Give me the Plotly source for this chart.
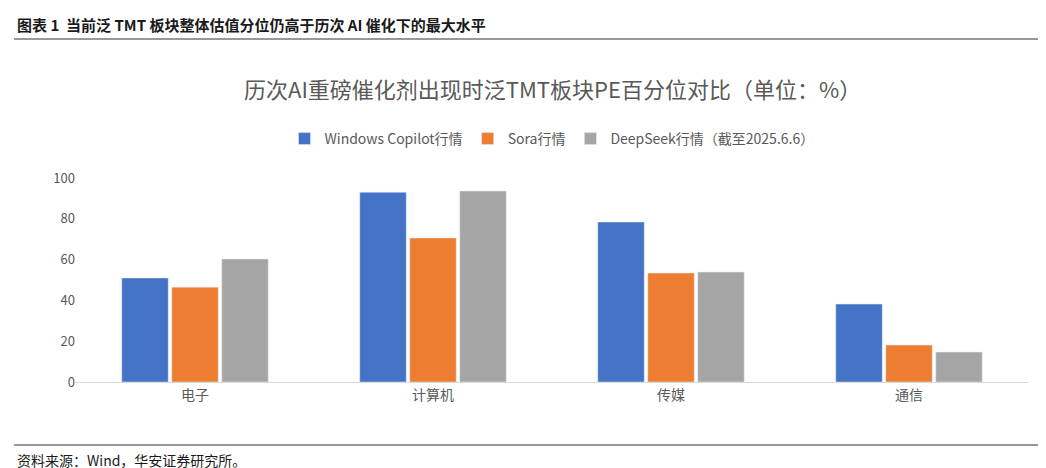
import plotly.graph_objects as go

categories = ["电子", "计算机", "传媒", "通信"]
copilot = [51, 93, 78.4, 38.2]
sora = [46.5, 70.6, 53.4, 18.1]
deepseek = [60.3, 93.6, 53.9, 14.7]

W, H = 1046, 468
TOP, BOT = 170, 374


def py(y):
    # pixel row -> paper y for the plot area
    return (BOT - y) / (BOT - TOP)


def px_(x):
    return (x - 68) / (1020 - 68)


font = "Noto Sans CJK SC"
fig = go.Figure()
for name, vals, col in [("Windows Copilot行情", copilot, "#4472C4"),
                        ("Sora行情", sora, "#ED7D31"),
                        ("DeepSeek行情（截至2025.6.6）", deepseek, "#A5A5A5")]:
    fig.add_trace(go.Bar(x=categories, y=vals, name=name, marker_color=col))

fig.update_layout(
    width=W, height=H, plot_bgcolor="white", paper_bgcolor="white",
    margin=dict(l=68, r=26, t=TOP, b=H - BOT),
    bargap=0.37, bargroupgap=0.07,
    font=dict(family=font, color="#595959", size=13),
    legend=dict(orientation="h", x=0.5, xanchor="center", y=py(131), yanchor="middle",
                font=dict(size=14), itemwidth=30),
    yaxis=dict(range=[0, 100], dtick=20, showgrid=False, showline=False,
               ticks="", tickfont=dict(size=13)),
    xaxis=dict(showline=True, linecolor="#D9D9D9", linewidth=1, ticks="",
               tickfont=dict(size=14)),
    showlegend=True,
)

fig.add_annotation(text="<b>图表 1  当前泛 TMT 板块整体估值分位仍高于历次 AI 催化下的最大水平</b>",
                   xref="paper", yref="paper", x=px_(7), y=py(16), xanchor="left",
                   yanchor="middle", showarrow=False, font=dict(size=15, color="#1a1a1a"))
fig.add_annotation(text="历次AI重磅催化剂出现时泛TMT板块PE百分位对比（单位：%）",
                   xref="paper", yref="paper", x=0.5, y=py(80), xanchor="center",
                   yanchor="middle", showarrow=False, font=dict(size=22, color="#595959"))
fig.add_annotation(text="资料来源：Wind，华安证券研究所。",
                   xref="paper", yref="paper", x=px_(7), y=py(452), xanchor="left",
                   yanchor="middle", showarrow=False, font=dict(size=14, color="#1a1a1a"))
for y in (31, 437):
    fig.add_shape(type="line", xref="paper", yref="paper", x0=px_(6), x1=px_(1040),
                  y0=py(y), y1=py(y), line=dict(color="#333333", width=1))

fig.write_html("out.html")
